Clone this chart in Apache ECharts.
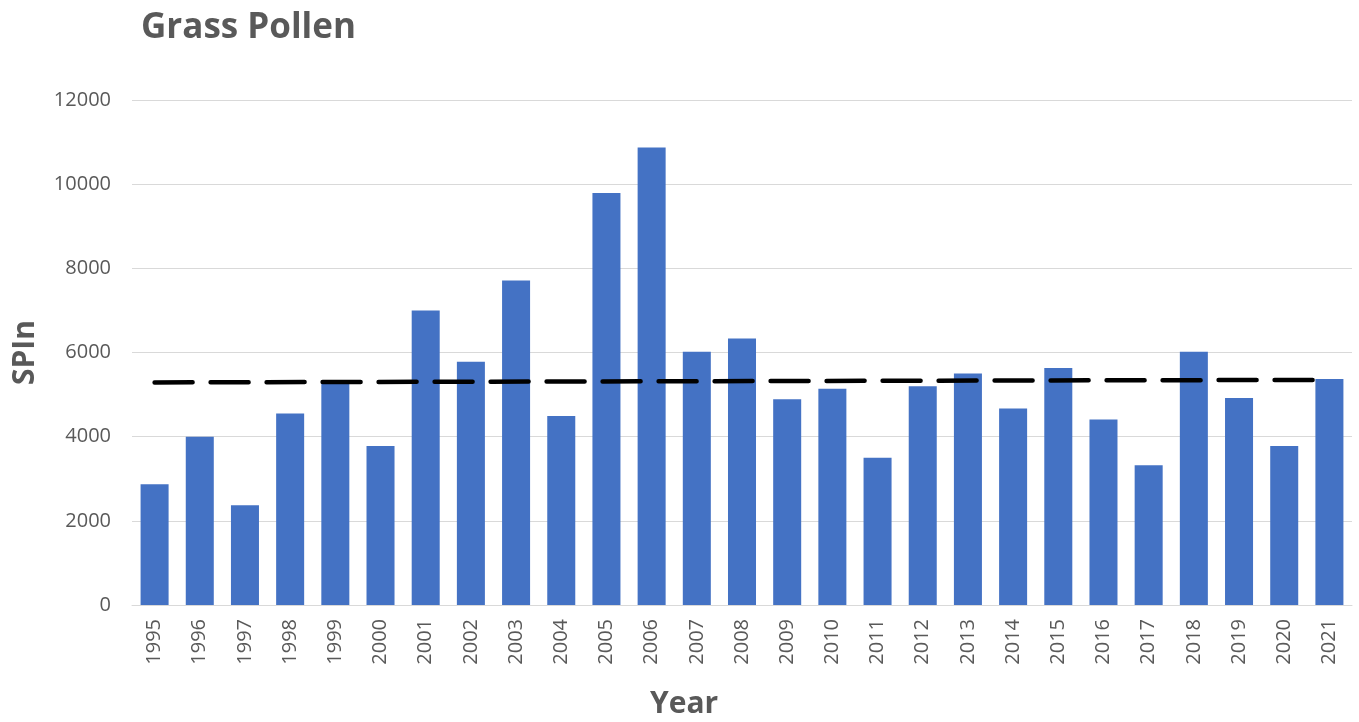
<!DOCTYPE html>
<html>
<head>
<meta charset="utf-8">
<title>Grass Pollen</title>
<script src="https://cdn.jsdelivr.net/npm/echarts@6/dist/echarts.min.js"></script>
<style>
  html, body { margin: 0; padding: 0; background: #ffffff; }
  #chart { width: 1359px; height: 722px; }
</style>
</head>
<body>
<div id="chart"></div>
<script>
// Seasonal pollen index per year
const years = ['1995','1996','1997','1998','1999','2000','2001','2002','2003','2004',
  '2005','2006','2007','2008','2009','2010','2011','2012','2013','2014',
  '2015','2016','2017','2018','2019','2020','2021'];
const spin = [2870, 4000, 2370, 4550, 5270, 3780, 7000, 5780, 7710, 4490,
  9790, 10870, 6020, 6330, 4890, 5140, 3500, 5200, 5500, 4670,
  5630, 4410, 3320, 6020, 4920, 3780, 5370];
// Trend line end points (first and last year)
const trendStart = 5290;
const trendEnd = 5350;
const yTicks = { min: 0, max: 12000, interval: 2000 };

const grey = '#595959';
const chart = echarts.init(document.getElementById('chart'), null, { renderer: 'canvas' });

chart.setOption({
  animation: false,
  backgroundColor: '#ffffff',
  title: [
    {
      text: 'Grass Pollen',
      left: 136, top: 6,
      textStyle: { fontFamily: 'Open Sans', fontWeight: 'bold', fontSize: 35, color: grey }
    },
    {
      text: 'Year',
      left: 645, top: 684,
      textStyle: { fontFamily: 'Open Sans', fontWeight: 'bold', fontSize: 30, color: grey }
    }
  ],
  grid: { left: 132, right: 7, top: 100, bottom: 117, containLabel: false },
  xAxis: {
    type: 'category',
    data: years,
    axisLine: { show: true, lineStyle: { color: '#d9d9d9', width: 1 } },
    axisTick: { show: false },
    axisLabel: {
      rotate: 90, margin: 14, color: grey,
      fontFamily: 'Open Sans', fontSize: 20
    }
  },
  yAxis: {
    type: 'value',
    min: yTicks.min, max: yTicks.max, interval: yTicks.interval,
    name: 'SPIn',
    nameLocation: 'middle',
    nameGap: 92,
    nameRotate: 90,
    nameTextStyle: { fontFamily: 'Open Sans', fontWeight: 'bold', fontSize: 30, color: grey },
    axisLine: { show: false },
    axisTick: { show: false },
    axisLabel: {
      margin: 21, color: grey, fontFamily: 'Open Sans', fontSize: 20,
      formatter: (v) => String(v)
    },
    splitLine: { lineStyle: { color: '#d9d9d9', width: 1 } }
  },
  series: [
    {
      type: 'bar',
      data: spin,
      barCategoryGap: '38%',
      itemStyle: { color: '#4472c4' },
      markLine: {
        symbol: ['none', 'none'],
        silent: true,
        label: { show: false },
        lineStyle: { color: '#000000', width: 4.5, type: [38, 18], cap: 'round' },
        data: [[
          { coord: [years[0], trendStart] },
          { coord: [years[years.length - 1], trendEnd] }
        ]]
      }
    }
  ]
});
</script>
</body>
</html>
